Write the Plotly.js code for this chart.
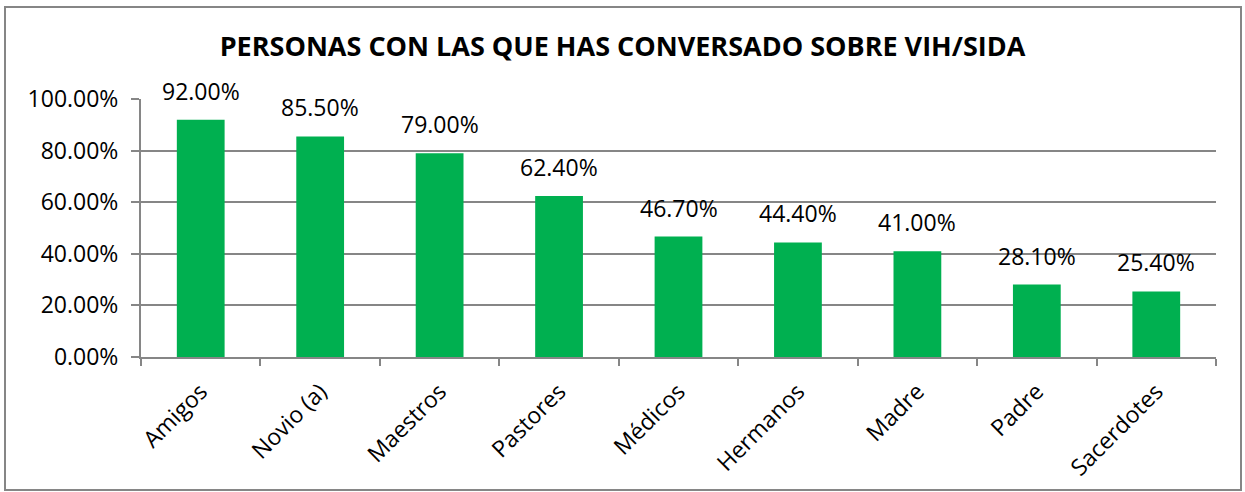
<!DOCTYPE html>
<html>
<head>
<meta charset="utf-8">
<script src="https://cdn.plot.ly/plotly-3.0.1.min.js"></script>
<style>html,body{margin:0;padding:0;background:#fff;}#chart{width:1245px;height:492px;}</style>
</head>
<body>
<div id="chart"></div>
<script>
const categories = ["Amigos", "Novio (a)", "Maestros", "Pastores", "Médicos", "Hermanos", "Madre", "Padre", "Sacerdotes"];
const values = [0.92, 0.855, 0.79, 0.624, 0.467, 0.444, 0.41, 0.281, 0.254];
const yTickVals = [0, 0.2, 0.4, 0.6, 0.8, 1.0];
const titleText = "PERSONAS CON LAS QUE HAS CONVERSADO SOBRE VIH/SIDA";

const FONT = "Open Sans, Liberation Sans, sans-serif";
const W = 1245, H = 492;
const m = {l: 141, r: 29, t: 99, b: 135};
const pw = W - m.l - m.r, ph = H - m.t - m.b;
const px = x => (x - m.l) / pw;
const py = y => (H - m.b - y) / ph;

const trace = {
  type: "bar",
  x: categories,
  y: values,
  marker: {color: "#00B050", line: {width: 0}},
  width: 0.4,
  hoverinfo: "none"
};

const labels = categories.map((c, i) => ({
  x: c, y: values[i], xref: "x", yref: "y",
  text: (values[i] * 100).toFixed(2) + "%",
  showarrow: false, yanchor: "bottom", yshift: 11,
  font: {family: FONT, size: 23, color: "#000"}
}));

const layout = {
  width: W, height: H,
  margin: m,
  paper_bgcolor: "#fff",
  plot_bgcolor: "#fff",
  showlegend: false,
  title: {
    text: "<b>" + titleText + "</b>",
    font: {family: FONT, size: 27, color: "#000"},
    x: 0.5, xanchor: "center",
    y: 1 - 47 / H, yanchor: "middle", yref: "container"
  },
  xaxis: {
    type: "category",
    showline: true, linecolor: "#868686", linewidth: 2,
    ticks: "outside", tickson: "boundaries", ticklen: 7, tickcolor: "#868686", tickwidth: 2,
    tickangle: -45,
    ticklabelstandoff: 10,
    tickfont: {family: FONT, size: 23, color: "#000"},
    showgrid: false
  },
  yaxis: {
    range: [0, 1],
    tickvals: yTickVals,
    tickformat: ".2%",
    showline: true, linecolor: "#868686", linewidth: 2,
    ticks: "outside", ticklen: 8, tickcolor: "#868686", tickwidth: 2,
    ticklabelstandoff: 8,
    showgrid: true, gridcolor: "#868686", gridwidth: 2,
    zeroline: false,
    tickfont: {family: FONT, size: 23, color: "#000"}
  },
  bargap: 0.6,
  annotations: labels,
  shapes: [{
    type: "rect", xref: "paper", yref: "paper",
    x0: px(5), x1: px(1241), y0: py(490), y1: py(7),
    line: {color: "#868686", width: 2}, fillcolor: "rgba(0,0,0,0)", layer: "below"
  }]
};

Plotly.newPlot("chart", [trace], layout, {displayModeBar: false, staticPlot: true});
</script>
</body>
</html>
